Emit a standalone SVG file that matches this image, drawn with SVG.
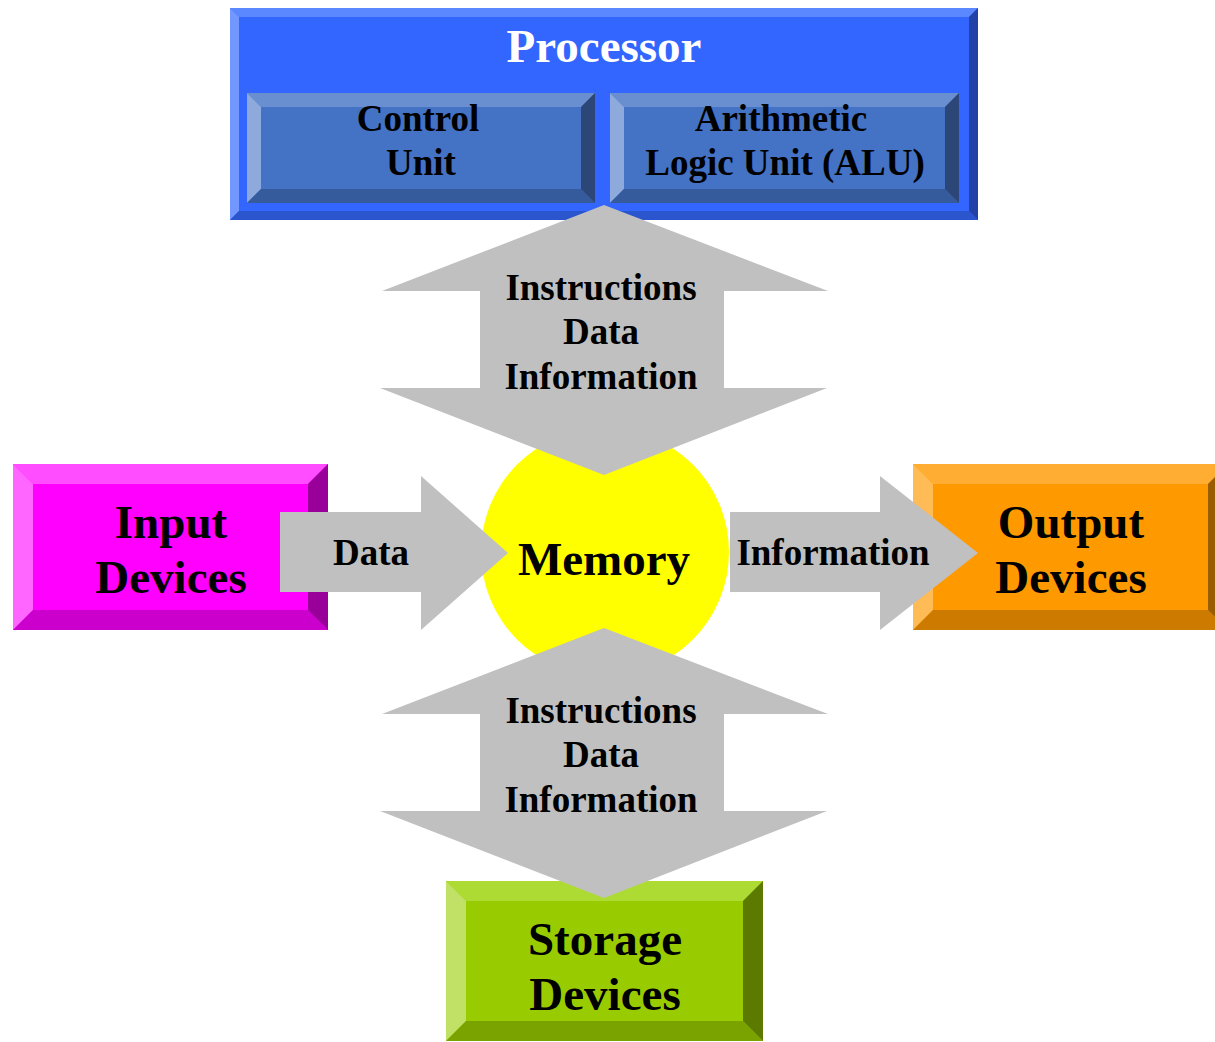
<svg xmlns="http://www.w3.org/2000/svg" width="1215" height="1042" viewBox="0 0 1215 1042">
  <style>
    text { font-family: "Liberation Serif", "Times New Roman", serif; font-weight: bold; text-anchor: middle; fill: #000; }
    .lbl { font-size: 37px; }
    .big { font-size: 47px; }
    .arrow { fill: #c0c0c0; }
  </style>
  <rect width="1215" height="1042" fill="#ffffff"/>

  <!-- Processor with its two units -->
  <g id="processor">
    <rect x="230" y="8" width="748" height="212" fill="#3366ff"/>
    <polygon points="230,8 978,8 969,17 239,17" fill="#5b87ff"/>
    <polygon points="230,8 239,17 239,211 230,220" fill="#7298ff"/>
    <polygon points="230,220 239,211 969,211 978,220" fill="#2a55cc"/>
    <polygon points="978,8 978,220 969,211 969,17" fill="#2242a8"/>
    <text x="604" y="62" font-size="47" style="fill:#fff">Processor</text>
  </g>
  <g id="control-unit">
    <rect x="247" y="93" width="348" height="110" fill="#4472c4"/>
    <polygon points="247,93 595,93 581,107 261,107" fill="#6a8fd0"/>
    <polygon points="247,93 261,107 261,189 247,203" fill="#8eaadd"/>
    <polygon points="247,203 261,189 581,189 595,203" fill="#365b9c"/>
    <polygon points="595,93 595,203 581,189 581,107" fill="#2b4677"/>
    <text class="lbl" x="418" y="131">Control</text>
    <text class="lbl" x="421" y="175">Unit</text>
  </g>
  <g id="alu">
    <rect x="610" y="93" width="349" height="110" fill="#4472c4"/>
    <polygon points="610,93 959,93 945,107 624,107" fill="#6a8fd0"/>
    <polygon points="610,93 624,107 624,189 610,203" fill="#8eaadd"/>
    <polygon points="610,203 624,189 945,189 959,203" fill="#365b9c"/>
    <polygon points="959,93 959,203 945,189 945,107" fill="#2b4677"/>
    <text class="lbl" x="781" y="131">Arithmetic</text>
    <text class="lbl" x="785" y="175">Logic Unit (ALU)</text>
  </g>

  <!-- Peripheral devices -->
  <g id="input-devices">
    <rect x="13" y="464" width="315" height="166" fill="#ff00ff"/>
    <polygon points="13,464 328,464 308,484 33,484" fill="#ff4dff"/>
    <polygon points="13,464 33,484 33,610 13,630" fill="#ff66ff"/>
    <polygon points="13,630 33,610 308,610 328,630" fill="#cc00cc"/>
    <polygon points="328,464 328,630 308,610 308,484" fill="#990099"/>
    <text class="big" x="171" y="538">Input</text>
    <text class="big" x="171" y="593">Devices</text>
  </g>
  <g id="output-devices">
    <rect x="913" y="464" width="315" height="166" fill="#ff9900"/>
    <polygon points="913,464 1228,464 1208,484 933,484" fill="#ffad33"/>
    <polygon points="913,464 933,484 933,610 913,630" fill="#ffbb55"/>
    <polygon points="913,630 933,610 1208,610 1228,630" fill="#cc7a00"/>
    <polygon points="1228,464 1228,630 1208,610 1208,484" fill="#995c00"/>
    <text class="big" x="1071" y="538">Output</text>
    <text class="big" x="1071" y="593">Devices</text>
  </g>
  <g id="storage-devices">
    <rect x="446" y="881" width="317" height="160" fill="#99cc00"/>
    <polygon points="446,881 763,881 743,901 466,901" fill="#addb33"/>
    <polygon points="446,881 466,901 466,1021 446,1041" fill="#c0e066"/>
    <polygon points="446,1041 466,1021 743,1021 763,1041" fill="#7aa300"/>
    <polygon points="763,881 763,1041 743,1021 743,901" fill="#5c7a00"/>
    <text class="big" x="605" y="955">Storage</text>
    <text class="big" x="605" y="1010">Devices</text>
  </g>

  <!-- Memory -->
  <g id="memory">
    <circle cx="605" cy="552" r="124" fill="#ffff00"/>
  </g>

  <!-- Data flow arrows -->
  <g id="connectors">
    <polygon class="arrow" points="604,205 828,291 724,291 724,388 827,388 604,475 380,388 480,388 480,291 382,291"/>
    <polygon class="arrow" points="604,628 828,714 724,714 724,811 827,811 604,898 380,811 480,811 480,714 382,714"/>
    <polygon class="arrow" points="280,512 421,512 421,476 508,553 421,630 421,592 280,592"/>
    <polygon class="arrow" points="730,512 880,512 880,476 978,553 880,630 880,592 730,592"/>
    <text class="lbl" x="601" y="300">Instructions</text>
    <text class="lbl" x="601" y="344">Data</text>
    <text class="lbl" x="601" y="389">Information</text>
    <text class="lbl" x="601" y="723">Instructions</text>
    <text class="lbl" x="601" y="767">Data</text>
    <text class="lbl" x="601" y="812">Information</text>
    <text class="lbl" x="371" y="565">Data</text>
    <text class="lbl" x="833" y="565">Information</text>
  </g>

  <text x="604" y="575" font-size="47">Memory</text>
</svg>
